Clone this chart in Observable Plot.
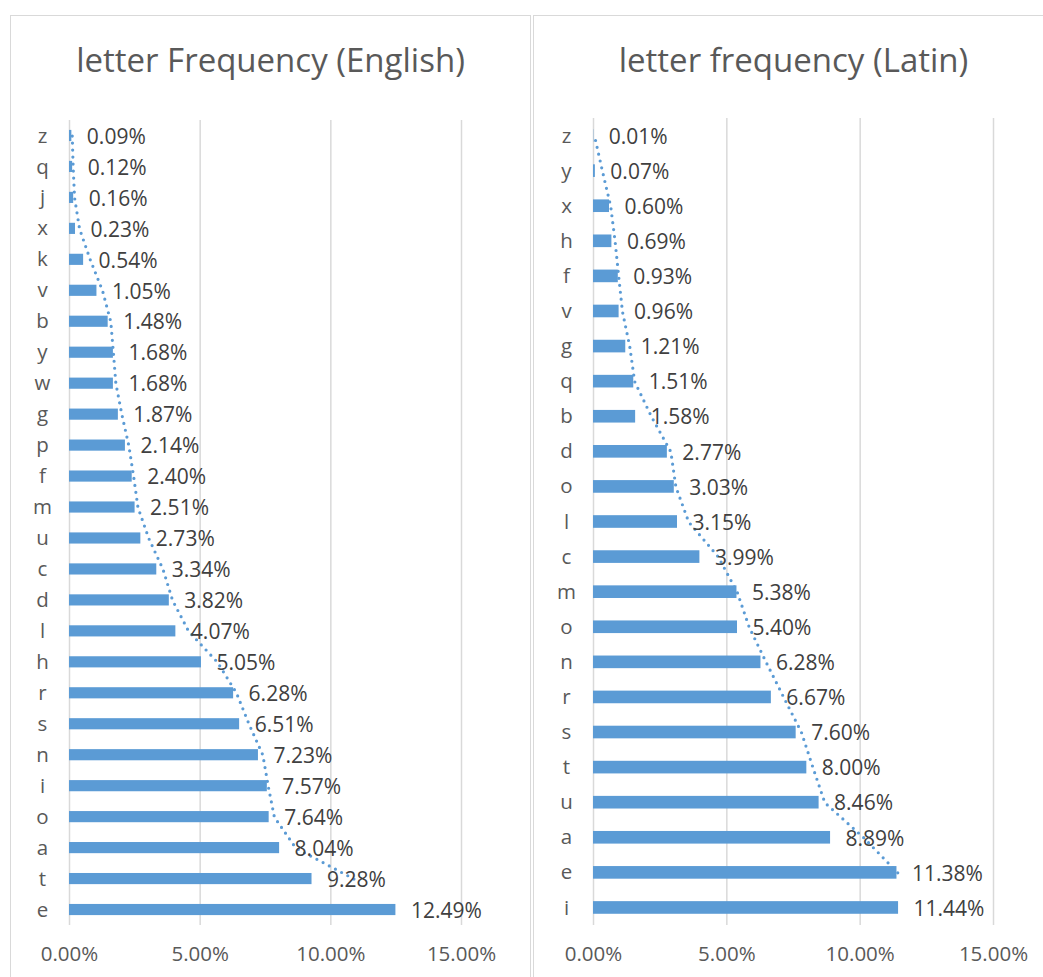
<!DOCTYPE html>
<html>
<head>
<meta charset="utf-8">
<script src="https://cdn.jsdelivr.net/npm/d3@7"></script>
<script src="https://cdn.jsdelivr.net/npm/@observablehq/plot@0.6"></script>
<style>
  html, body { margin: 0; padding: 0; background: #fff; }
  body { width: 1043px; height: 977px; position: relative; overflow: hidden; font-family: "Open Sans", sans-serif; }
  .panel { position: absolute; top: 15px; border-left: 1.5px solid #d9d9d9; border-top: 1.5px solid #d9d9d9; border-right: 1.5px solid #d9d9d9; height: 1000px; box-sizing: border-box; }
  .title { position: absolute; top: 0; left: 0; right: 0; text-align: center; font-size: 33px; color: #595959; line-height: 1; padding-top: 27px; }
  .plot { position: absolute; top: 83.5px; left: 0; }
</style>
</head>
<body>
<div class="panel" id="p1" style="left:10px; width:521px;"><div class="title">letter Frequency (English)</div><div class="plot" id="c1"></div></div>
<div class="panel" id="p2" style="left:533px; width:521px;"><div class="title">letter frequency (Latin)</div><div class="plot" id="c2"></div></div>
<script>
// English letter frequencies (percent), listed bottom to top as in the chart
const englishLetters = ["e","t","a","o","i","n","s","r","h","l","d","c","u","m","f","p","g","w","y","b","v","k","x","j","q","z"];
const englishFreq = [12.49,9.28,8.04,7.64,7.57,7.23,6.51,6.28,5.05,4.07,3.82,3.34,2.73,2.51,2.40,2.14,1.87,1.68,1.68,1.48,1.05,0.54,0.23,0.16,0.12,0.09];

// Latin letter frequencies (percent), bottom to top
const latinLetters = ["i","e","a","u","t","s","r","n","o","m","c","l","o","d","b","q","g","v","f","h","x","y","z"];
const latinFreq = [11.44,11.38,8.89,8.46,8.00,7.60,6.67,6.28,5.40,5.38,3.99,3.15,3.03,2.77,1.58,1.51,1.21,0.96,0.93,0.69,0.60,0.07,0.01];

const xTicks = [0, 5, 10, 15];
const barColor = "#5b9bd5";

function makeChart(letters, freq, opts) {
  const data = letters.map((l, i) => ({key: String(i), letter: l, value: freq[i]}));
  const labelOf = new Map(data.map(d => [d.key, d.letter]));
  const fmt = v => v.toFixed(2) + "%";
  return Plot.plot({
    width: opts.width,
    height: opts.height,
    marginLeft: opts.marginLeft,
    marginRight: opts.marginRight,
    marginTop: opts.marginTop,
    marginBottom: opts.marginBottom,
    style: {fontFamily: "Open Sans, sans-serif", fontSize: "20px", color: "#595959", background: "transparent"},
    x: {domain: [0, 15], ticks: xTicks, tickFormat: fmt, label: null},
    y: {domain: data.map(d => d.key).reverse(), paddingInner: opts.pad, paddingOuter: opts.pad / 2, round: false, label: null},
    marks: [
      Plot.gridX(xTicks, {stroke: "#d9d9d9", strokeOpacity: 1, strokeWidth: 1.5}),
      Plot.barX(data, {x: "value", y: "key", fill: barColor}),
      Plot.lineX(data, Plot.windowX({k: 2, anchor: "end", reduce: "mean", strict: true}, {x: "value", y: "key", stroke: barColor, strokeWidth: 3.2, strokeDasharray: "0 7", strokeLinecap: "round"})),
      Plot.text(data, {x: "value", y: "key", text: d => fmt(d.value), textAnchor: "start", dx: 15, dy: 1, fill: "#404040", fontSize: 21}),
      Plot.axisY({tickSize: 0, tickPadding: 27, textAnchor: "middle", tickFormat: k => labelOf.get(k), fill: "#595959", fontSize: 20.5, label: null}),
      Plot.axisX(xTicks, {tickSize: 0, tickPadding: 21, tickFormat: fmt, fill: "#595959", fontSize: 20.5, label: null})
    ]
  });
}

document.getElementById("c1").append(makeChart(englishLetters, englishFreq, {
  width: 519, height: 877, marginLeft: 58, marginRight: 69, marginTop: 20, marginBottom: 52, pad: 0.64
}));
document.getElementById("c2").append(makeChart(latinLetters, latinFreq, {
  width: 509, height: 877, marginLeft: 59, marginRight: 50, marginTop: 18, marginBottom: 52, pad: 0.64
}));
</script>
</body>
</html>
